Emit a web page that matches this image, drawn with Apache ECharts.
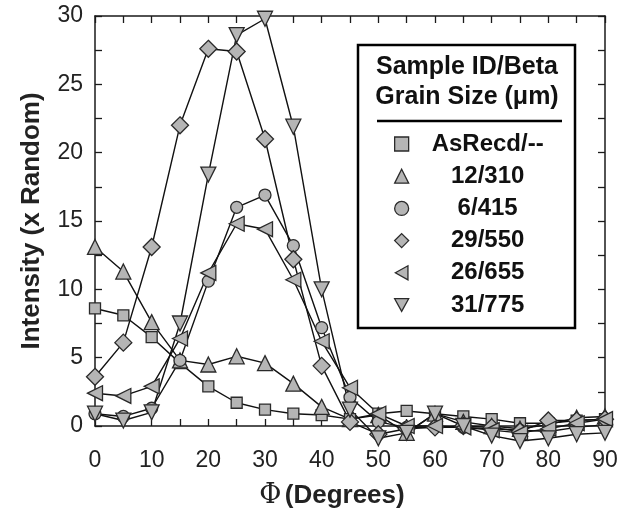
<!DOCTYPE html>
<html>
<head>
<meta charset="utf-8">
<script src="https://cdn.jsdelivr.net/npm/echarts@6/dist/echarts.min.js"></script>
<style>html,body{margin:0;padding:0;background:#fff;}#c{width:631px;height:514px;}</style>
</head>
<body>
<div id="c"></div>
<script>
const angles = [0,5,10,15,20,25,30,35,40,45,50,55,60,65,70,75,80,85,90];
const seriesNames = ['AsRecd/--','12/310','6/415','29/550','26/655','31/775'];
const asRecd  = [8.6, 8.1, 6.5, 4.6, 2.9, 1.7, 1.2, 0.9, 0.8, 0.5, 0.9, 1.1, 0.9, 0.7, 0.5, 0.2, 0.2, 0.4, 0.5];
const s12_310 = [13.1, 11.3, 7.6, 4.8, 4.5, 5.1, 4.6, 3.1, 1.4, 0.5, 0.8, -0.5, 0.9, 0.3, 0.0, -0.2, 0.1, 0.6, 0.7];
const s6_415  = [0.9, 0.7, 1.3, 4.8, 10.6, 16.0, 16.9, 13.2, 7.2, 2.1, 0.3, -0.1, -0.1, -0.1, -0.2, -0.3, -0.4, -0.1, 0.1];
const s29_550 = [3.6, 6.1, 13.1, 22.0, 27.6, 27.4, 21.0, 12.2, 4.4, 0.3, -0.6, -0.2, -0.1, 0.0, -0.1, -0.4, 0.4, 0.4, 0.5];
const s26_655 = [2.4, 2.2, 2.9, 6.4, 11.2, 14.8, 14.4, 10.7, 6.2, 2.8, 0.9, 0.0, 0.0, -0.1, -0.3, -0.5, -0.2, 0.2, 0.5];
const s31_775 = [0.9, 0.4, 1.0, 7.5, 18.4, 28.6, 29.8, 21.9, 10.0, 1.2, -0.9, -0.5, 0.9, 0.0, -0.7, -1.1, -0.9, -0.6, -0.5];
const xTicks = [0,10,20,30,40,50,60,70,80,90];
const yTicks = [0,5,10,15,20,25,30];

const allData = [asRecd, s12_310, s6_415, s29_550, s26_655, s31_775];
const symbols = ['rect','triangle','circle','diamond','triangle','triangle'];
const rotations = [0,0,0,0,90,180];
const sizes = [11,15,12,17,15,15];
const legendIcons = ['rect','triangle','circle','diamond','path://M0,5L9,0L9,10Z','path://M0,0L10,0L5,9Z'];

const chart = echarts.init(document.getElementById('c'), null, {renderer:'canvas'});
const fontSans = 'Liberation Sans, Arial, Helvetica, sans-serif';
const axisCol = '#1a1a1a';

const series = allData.map((d,i)=>({
  name: seriesNames[i],
  type: 'line',
  data: angles.map((a,j)=>[a,d[j]]),
  symbol: symbols[i],
  symbolSize: sizes[i],
  symbolRotate: rotations[i],
  showAllSymbol: true,
  clip: false,
  lineStyle: {color:'#111', width:1.4},
  itemStyle: {color:'#b5b5b5', borderColor:'#2a2a2a', borderWidth:1.3},
  emphasis: {disabled:true},
  animation: false,
  z: 3
}));

const baseTick = {show:true, inside:true, length:7, lineStyle:{color:axisCol, width:1.3}};
const option = {
  animation: false,
  grid: {left:95, top:16, right:26, bottom:85, containLabel:false},
  xAxis: [{
    type:'value', min:0, max:90, interval:10, position:'bottom',
    axisLine:{show:true, onZero:false, lineStyle:{color:axisCol, width:1.5}},
    axisTick: baseTick,
    minorTick:{show:true, splitNumber:2, length:7, lineStyle:{color:axisCol, width:1.3}},
    splitLine:{show:false},
    axisLabel:{show:true, margin:23, fontSize:23, color:'#222', fontFamily:fontSans,
      formatter: v => xTicks.includes(v) ? String(v) : ''},
    name:'{p|Φ} {b|(Degrees)}', nameLocation:'middle', nameGap:56,
    nameTextStyle:{padding:[0,36,0,0], rich:{
      p:{fontFamily:'DejaVu Serif, serif', fontSize:27, color:'#222'},
      b:{fontFamily:fontSans, fontWeight:'bold', fontSize:26, color:'#222'}
    }}
  },{
    type:'value', min:0, max:90, interval:5, position:'top',
    axisLine:{show:true, onZero:false, lineStyle:{color:axisCol, width:1.5}},
    axisTick: baseTick, axisLabel:{show:false}, splitLine:{show:false}
  }],
  yAxis: [{
    type:'value', min:0, max:30, interval:5, position:'left',
    axisLine:{show:true, onZero:false, lineStyle:{color:axisCol, width:1.5}},
    axisTick: baseTick,
    minorTick:{show:true, splitNumber:2, length:7, lineStyle:{color:axisCol, width:1.3}},
    splitLine:{show:false},
    axisLabel:{show:true, margin:12, fontSize:23, color:'#222', fontFamily:fontSans,
      formatter: v => yTicks.includes(v) ? String(v) : ''},
    name:'Intensity (x Random)', nameLocation:'middle', nameGap:50, nameRotate:90,
    nameTextStyle:{fontFamily:fontSans, fontWeight:'bold', fontSize:26, color:'#222'}
  },{
    type:'value', min:0, max:30, interval:5, position:'right',
    axisLine:{show:true, onZero:false, lineStyle:{color:axisCol, width:1.5}},
    axisTick: baseTick,
    minorTick:{show:true, splitNumber:2, length:7, lineStyle:{color:axisCol, width:1.3}},
    axisLabel:{show:false}, splitLine:{show:false}
  }],
  legend: {
    show:true, orient:'vertical', left:389, top:127,
    itemWidth:14, itemHeight:14, itemGap:8.2,
    data: seriesNames.map((n,i)=>({name:n, icon: legendIcons[i]})),
    formatter: n => '{c|' + n + '}',
    textStyle:{rich:{c:{width:148, align:'center', fontFamily:fontSans, fontWeight:'bold', fontSize:24, lineHeight:24, color:'#111'}}},
    itemStyle:{color:'#b5b5b5', borderColor:'#2a2a2a', borderWidth:1.3},
    selectedMode:false
  },
  graphic: [
    {type:'rect', shape:{x:358, y:45, width:217, height:283}, style:{fill:'#fff', stroke:'#000', lineWidth:2.5}, z:10},
    {type:'text', x:467, y:67, style:{text:'Sample ID/Beta', x:0, y:0, align:'center', verticalAlign:'middle', font:'bold 25px Liberation Sans, Arial, sans-serif', fill:'#111'}, z:11},
    {type:'text', x:467, y:97, style:{text:'Grain Size (μm)', x:0, y:0, align:'center', verticalAlign:'middle', font:'bold 25px Liberation Sans, Arial, sans-serif', fill:'#111'}, z:11},
    {type:'line', shape:{x1:377, y1:121, x2:562, y2:121}, style:{stroke:'#000', lineWidth:2.5}, z:11}
  ],
  series: series
};
option.legend.z = 12;
chart.setOption(option);
</script>
</body>
</html>
